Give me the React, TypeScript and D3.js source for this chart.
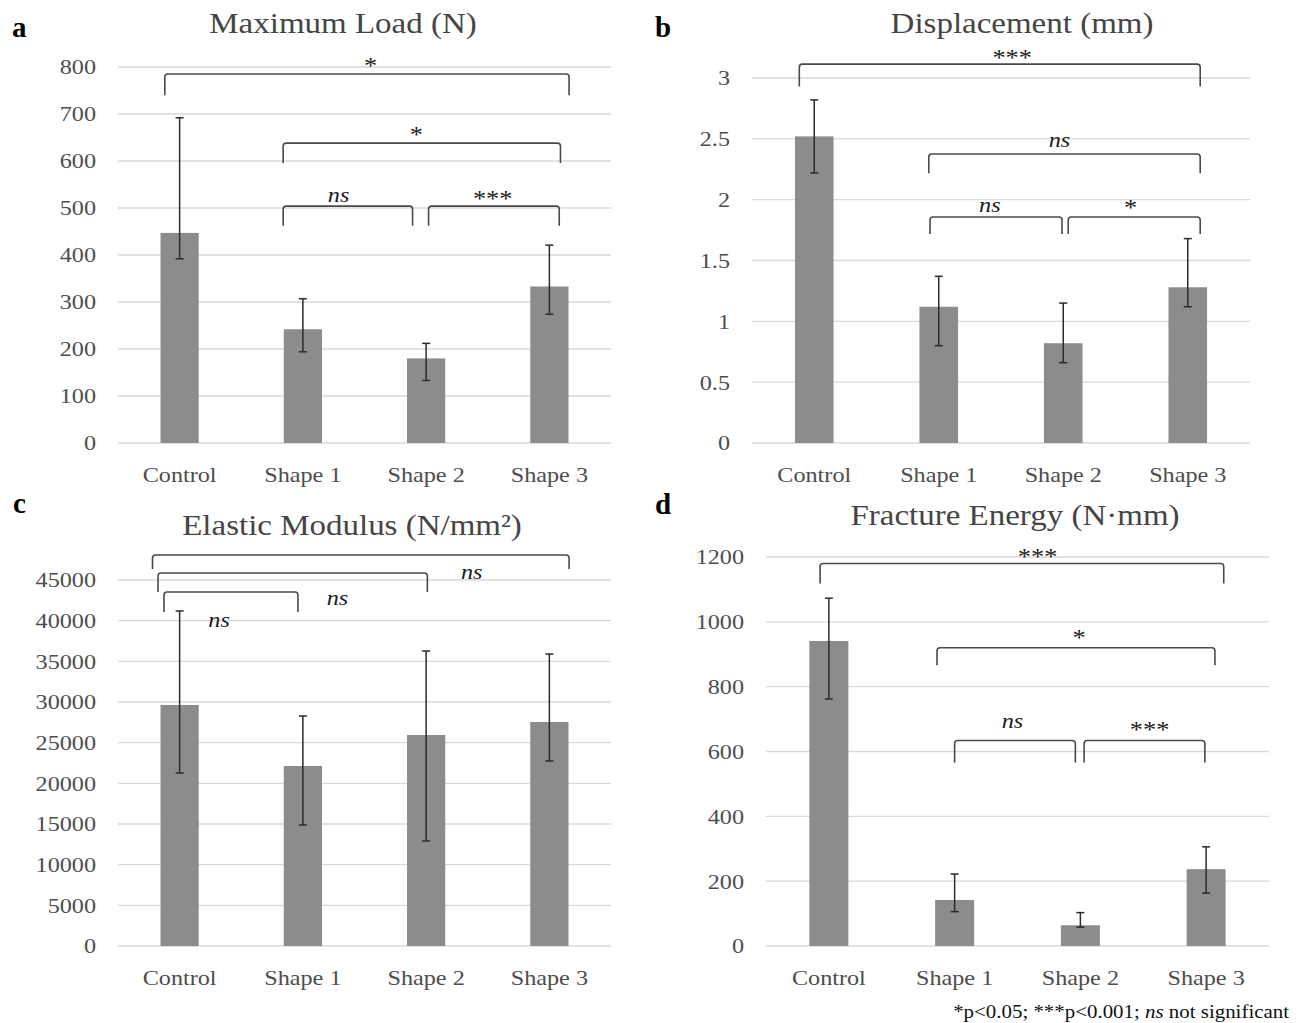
import * as d3 from 'd3';
import React, { useEffect, useRef } from 'react';

const categories = ["Control", "Shape 1", "Shape 2", "Shape 3"];

// a: maximum load
const loadMean = [447, 242, 180, 333];
const loadLow = [392, 194, 133, 274];
const loadHigh = [692, 307, 212, 421];
const loadTicks = [0, 100, 200, 300, 400, 500, 600, 700, 800];

// b: displacement
const dispMean = [2.52, 1.12, 0.82, 1.28];
const dispLow = [2.22, 0.80, 0.66, 1.12];
const dispHigh = [2.82, 1.37, 1.15, 1.68];
const dispTicks = [0, 0.5, 1, 1.5, 2, 2.5, 3];

// c: elastic modulus
const modMean = [29630, 22130, 25940, 27540];
const modLow = [21270, 14880, 12910, 22750];
const modHigh = [41190, 28280, 36270, 35900];
const modTicks = [0, 5000, 10000, 15000, 20000, 25000, 30000, 35000, 40000, 45000];

// d: fracture energy
const energyMean = [941, 142, 64, 237];
const energyLow = [762, 106, 58, 163];
const energyHigh = [1073, 222, 103, 306];
const energyTicks = [0, 200, 400, 600, 800, 1000, 1200];

// brackets: from/to in category-index units, level + leg end + label baseline in data units
const loadBrackets = [
  { from: -0.12, to: 3.16, level: 785, leg: 740, text: "*", at: 1.55, lab: 787 },
  { from: 0.84, to: 3.09, level: 638, leg: 596, text: "*", at: 1.92, lab: 641 },
  { from: 0.84, to: 1.89, level: 504, leg: 462, text: "ns", at: 1.29, lab: 513 },
  { from: 2.02, to: 3.08, level: 504, leg: 462, text: "***", at: 2.54, lab: 504 },
];
const dispBrackets = [
  { from: -0.12, to: 3.1, level: 3.114, leg: 2.93, text: "***", at: 1.59, lab: 3.11 },
  { from: 0.92, to: 3.1, level: 2.375, leg: 2.218, text: "ns", at: 1.97, lab: 2.432 },
  { from: 0.93, to: 1.99, level: 1.857, leg: 1.717, text: "ns", at: 1.41, lab: 1.898 },
  { from: 2.04, to: 3.1, level: 1.857, leg: 1.717, text: "*", at: 2.54, lab: 1.87 },
];
const modBrackets = [
  { from: -0.22, to: 3.16, level: 48075, leg: 46355, text: "ns", at: 2.37, lab: 45125 },
  { from: -0.175, to: 2.01, level: 45860, leg: 43530, text: "ns", at: 1.28, lab: 41930 },
  { from: -0.127, to: 0.96, level: 43530, leg: 41070, text: "ns", at: 0.32, lab: 39225 },
];
const energyBrackets = [
  { from: -0.07, to: 3.14, level: 1180, leg: 1118, text: "***", at: 1.66, lab: 1178 },
  { from: 0.86, to: 3.07, level: 920, leg: 866, text: "*", at: 1.99, lab: 928 },
  { from: 1.0, to: 1.96, level: 634, leg: 566, text: "ns", at: 1.46, lab: 671 },
  { from: 2.03, to: 2.99, level: 634, leg: 566, text: "***", at: 2.55, lab: 645 },
];

const panels = [
  { letter: "a", title: "Maximum Load (N)", mean: loadMean, low: loadLow, high: loadHigh, ticks: loadTicks, brackets: loadBrackets,
    x0: 118, x1: 611, y0: 443, y1: 67, letterX: 12, letterY: 37, titleX: 343, titleY: 33 },
  { letter: "b", title: "Displacement (mm)", mean: dispMean, low: dispLow, high: dispHigh, ticks: dispTicks, brackets: dispBrackets,
    x0: 752, x1: 1250, y0: 443, y1: 78, letterX: 655, letterY: 37, titleX: 1022, titleY: 33 },
  { letter: "c", title: "Elastic Modulus (N/mm²)", mean: modMean, low: modLow, high: modHigh, ticks: modTicks, brackets: modBrackets,
    x0: 118, x1: 611, y0: 946, y1: 580, letterX: 13, letterY: 513, titleX: 352, titleY: 535 },
  { letter: "d", title: "Fracture Energy (N·mm)", mean: energyMean, low: energyLow, high: energyHigh, ticks: energyTicks, brackets: energyBrackets,
    x0: 766, x1: 1269, y0: 946, y1: 557, letterX: 655, letterY: 514, titleX: 1015, titleY: 525 },
];

const STRETCH = 1.1;
const FONT = "'Liberation Serif', 'Times New Roman', serif";

function stretchText(g, x, y, txt, size, anchor, color) {
  return g.append("text")
    .attr("transform", `translate(${x},${y}) scale(${STRETCH},1)`)
    .attr("text-anchor", anchor)
    .attr("font-size", size)
    .attr("fill", color)
    .text(txt);
}

function drawPanel(svg, p) {
  const g = svg.append("g").attr("font-family", FONT);

  const x = d3.scaleBand().domain(categories).range([p.x0, p.x1]);
  const step = x.step();
  const pos = v => p.x0 + (v + 0.5) * step;  // continuous index -> px
  const y = d3.scaleLinear()
    .domain([0, p.ticks[p.ticks.length - 1]])
    .range([p.y0, p.y1]);
  const barW = step * 0.31;

  // gridlines
  g.selectAll(".grid").data(p.ticks).join("line")
    .attr("x1", p.x0).attr("x2", p.x1)
    .attr("y1", d => y(d)).attr("y2", d => y(d))
    .attr("stroke", "#d9d9d9").attr("stroke-width", 1.3);

  // tick labels
  p.ticks.forEach(t => {
    stretchText(g, p.x0 - 22, y(t), String(t), 22, "end", "#4d4d4d").attr("dy", "0.34em");
  });

  // bars
  g.selectAll(".bar").data(categories).join("rect")
    .attr("x", d => x(d) + step / 2 - barW / 2)
    .attr("width", barW)
    .attr("y", (d, i) => y(p.mean[i]))
    .attr("height", (d, i) => y(0) - y(p.mean[i]))
    .attr("fill", "#8c8c8c");

  // error bars
  categories.forEach((c, i) => {
    const cx = x(c) + step / 2;
    const eg = g.append("g").attr("stroke", "#2b2b2b").attr("stroke-width", 1.5);
    eg.append("line").attr("x1", cx).attr("x2", cx).attr("y1", y(p.low[i])).attr("y2", y(p.high[i]));
    eg.append("line").attr("x1", cx - 4).attr("x2", cx + 4).attr("y1", y(p.low[i])).attr("y2", y(p.low[i]));
    eg.append("line").attr("x1", cx - 4).attr("x2", cx + 4).attr("y1", y(p.high[i])).attr("y2", y(p.high[i]));
  });

  // category labels
  categories.forEach(c => {
    stretchText(g, x(c) + step / 2, p.y0 + 39, c, 22, "middle", "#4d4d4d");
  });

  // significance brackets
  const r = 3;
  p.brackets.forEach(b => {
    const xa = pos(b.from), xb = pos(b.to);
    const ly = y(b.level), lg = y(b.leg);
    const path = `M${xa},${lg} L${xa},${ly + r} Q${xa},${ly} ${xa + r},${ly} L${xb - r},${ly} Q${xb},${ly} ${xb},${ly + r} L${xb},${lg}`;
    g.append("path").attr("d", path).attr("fill", "none")
      .attr("stroke", "#4a4a4a").attr("stroke-width", 1.6);
    const isNs = b.text === "ns";
    stretchText(g, pos(b.at), y(b.lab), b.text, isNs ? 22 : 24, "middle", "#1a1a1a")
      .attr("font-style", isNs ? "italic" : "normal");
  });

  // title + panel letter
  stretchText(g, p.titleX, p.titleY, p.title, 30, "middle", "#454545");
  g.append("text").attr("x", p.letterX).attr("y", p.letterY)
    .attr("font-size", 29).attr("font-weight", "bold").attr("fill", "#000")
    .text(p.letter);
}

function Figure() {
  const ref = useRef(null);
  useEffect(() => {
    const svg = d3.select(ref.current);
    svg.selectAll("*").remove();
    svg.append("rect").attr("width", 1303).attr("height", 1023).attr("fill", "#fff");
    panels.forEach(p => drawPanel(svg, p));

    const foot = svg.append("text")
      .attr("transform", `translate(1289,1018) scale(${STRETCH},1)`)
      .attr("text-anchor", "end")
      .attr("font-family", FONT)
      .attr("font-size", 19)
      .attr("fill", "#111");
    foot.append("tspan").text("*p<0.05; ***p<0.001; ");
    foot.append("tspan").attr("font-style", "italic").text("ns");
    foot.append("tspan").text(" not significant");
  });
  return <svg ref={ref} width={1303} height={1023}></svg>;
}

export default function App() {
  return (
    <div style={{ position: "absolute", left: 0, top: 0 }}>
      <Figure />
    </div>
  );
}
